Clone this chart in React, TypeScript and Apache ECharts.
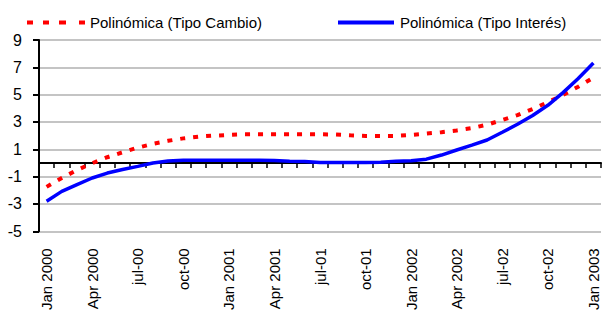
import React, { useEffect, useRef } from "react";
import * as echarts from "echarts";

const categories: string[] = [
  "Jan 2000", "feb-00", "mar-00", "Apr 2000", "may-00", "jun-00", "jul-00", "ago-00", "sep-00", "oct-00", "nov-00", "dic-00",
  "Jan 2001", "feb-01", "mar-01", "Apr 2001", "may-01", "jun-01", "jul-01", "ago-01", "sep-01", "oct-01", "nov-01", "dic-01",
  "Jan 2002", "feb-02", "mar-02", "Apr 2002", "may-02", "jun-02", "jul-02", "ago-02", "sep-02", "oct-02", "nov-02", "dic-02",
  "Jan 2003",
];

const tipoCambio: number[] = [
  -1.75, -1.1, -0.52, -0.02, 0.42, 0.78, 1.12, 1.4, 1.62, 1.8, 1.93, 2.0,
  2.05, 2.1, 2.1, 2.1, 2.1, 2.1, 2.1, 2.08, 2.02, 1.98, 1.97, 1.98,
  2.05, 2.15, 2.25, 2.38, 2.55, 2.8, 3.15, 3.5, 3.95, 4.45, 4.98, 5.58,
  6.25,
];

const tipoInteres: number[] = [
  -2.8, -2.08, -1.58, -1.1, -0.74, -0.48, -0.25, 0.0, 0.15, 0.2, 0.2, 0.2,
  0.2, 0.2, 0.2, 0.18, 0.13, 0.1, 0.04, 0.03, 0.03, 0.03, 0.05, 0.12,
  0.16, 0.28, 0.58, 0.95, 1.3, 1.68, 2.25, 2.83, 3.48, 4.22, 5.15, 6.18,
  7.32,
];

const seriesNames = ["Polinómica (Tipo Cambio)", "Polinómica (Tipo Interés)"];

const FONT = "'Liberation Sans', Arial, sans-serif";

const dashedIcon = "path://M0,0h6v4h-6z M16,0h6v4h-6z M32,0h7v4h-7z M52,0h6v4h-6z";
const solidIcon = "path://M0,0h56v4h-56z";

export default function App() {
  const ref = useRef<HTMLDivElement>(null);
  useEffect(() => {
    if (!ref.current) return;
    const chart = echarts.init(ref.current, null, { renderer: "svg" });
    chart.setOption({
      animation: false,
      backgroundColor: "#ffffff",
      textStyle: { fontFamily: FONT, color: "#000" },
      legend: {
        top: 15,
        left: 27,
        orient: "horizontal",
        width: 576,
        itemWidth: 58,
        itemHeight: 4,
        itemGap: 76,
        padding: 0,
        textStyle: { fontFamily: FONT, fontSize: 15, color: "#000" },
        data: [
          { name: seriesNames[0], icon: dashedIcon, itemStyle: { color: "#ff0000" } },
          { name: seriesNames[1], icon: solidIcon, itemStyle: { color: "#0000ff" } },
        ],
      },
      grid: { left: 39, right: 2, top: 40, bottom: 76, containLabel: false },
      xAxis: [
        {
          type: "category",
          data: categories,
          boundaryGap: true,
          position: "bottom",
          axisLine: { onZero: true, lineStyle: { color: "#000", width: 2 } },
          axisTick: { show: true, interval: 0, length: 5, lineStyle: { color: "#000", width: 1.5 } },
          axisLabel: { show: false },
          splitLine: { show: false },
        },
        {
          type: "category",
          data: categories,
          boundaryGap: true,
          position: "bottom",
          axisLine: { show: false, onZero: false },
          axisTick: { show: false },
          axisLabel: {
            show: true,
            interval: 2,
            rotate: 90,
            margin: 17,
            fontSize: 15,
            fontFamily: FONT,
            color: "#000",
          },
          splitLine: { show: false },
        },
      ],
      yAxis: {
        type: "value",
        min: -5,
        max: 9,
        interval: 2,
        axisLine: { show: true, lineStyle: { color: "#000", width: 2 } },
        axisTick: { show: true, length: 6, lineStyle: { color: "#000", width: 2 } },
        axisLabel: { fontSize: 16, margin: 17, fontFamily: FONT, color: "#000" },
        splitLine: { show: true, lineStyle: { color: "#c4c4c4", width: 2 } },
      },
      series: [
        {
          name: seriesNames[0],
          type: "line",
          xAxisIndex: 0,
          data: tipoCambio,
          showSymbol: false,
          symbol: "none",
          lineStyle: { color: "#ff0000", width: 4, type: [5, 8] },
          itemStyle: { color: "#ff0000" },
          z: 3,
        },
        {
          name: seriesNames[1],
          type: "line",
          xAxisIndex: 0,
          data: tipoInteres,
          showSymbol: false,
          symbol: "none",
          lineStyle: { color: "#0000ff", width: 3.5 },
          itemStyle: { color: "#0000ff" },
          z: 4,
        },
      ],
    });
    return () => chart.dispose();
  }, []);
  return (
    <div
      ref={ref}
      style={{ position: "fixed", left: 0, top: 0, width: 603, height: 313, background: "#fff" }}
    />
  );
}
